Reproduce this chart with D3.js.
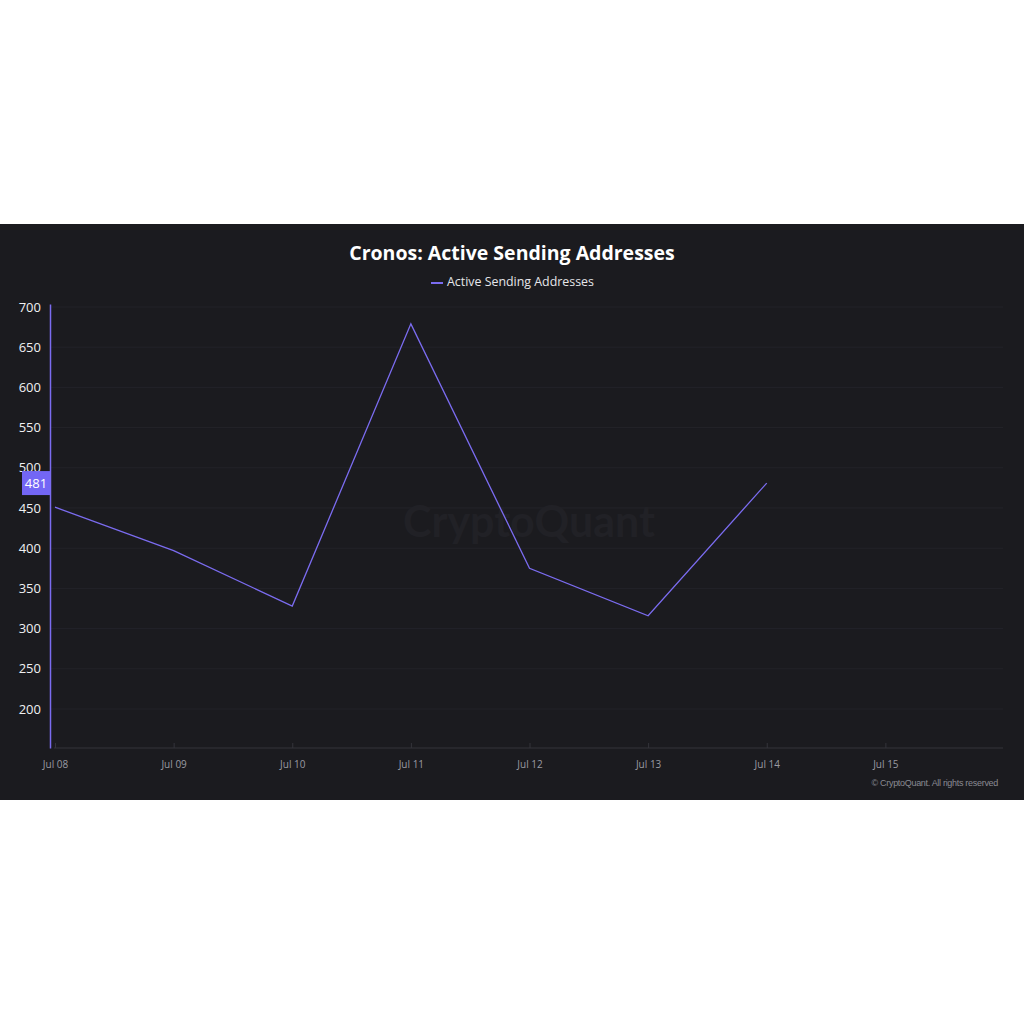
<!DOCTYPE html>
<html>
<head>
<meta charset="utf-8">
<script src="https://cdn.jsdelivr.net/npm/d3@7"></script>
<style>
  html, body { margin: 0; padding: 0; background: #ffffff; }
  svg { display: block; }
</style>
</head>
<body>
<div id="chart"></div>
<script>
// data
const dates = ["2023-07-08", "2023-07-09", "2023-07-10", "2023-07-11", "2023-07-12", "2023-07-13", "2023-07-14"];
const values = [451, 397, 328, 679, 375, 316, 481];
const yTicks = [200, 250, 300, 350, 400, 450, 500, 550, 600, 650, 700];
const xTickDates = ["2023-07-08", "2023-07-09", "2023-07-10", "2023-07-11", "2023-07-12", "2023-07-13", "2023-07-14", "2023-07-15"];
const lastLabel = "481";

const width = 1024, height = 1024;
const parse = d3.utcParse("%Y-%m-%d");
const lineColor = "#7b6cf0";

const svg = d3.select("#chart").append("svg")
  .attr("width", width)
  .attr("height", height);

// dark panel
svg.append("rect")
  .attr("x", 0).attr("y", 224)
  .attr("width", width).attr("height", 576)
  .attr("fill", "#1b1b1f");

const x = d3.scaleUtc()
  .domain([parse("2023-07-08"), parse("2023-07-16")])
  .range([55, 1004]);

const y = d3.scaleLinear()
  .domain([151.5, 703.7])
  .range([748, 304]);

// gridlines
svg.append("g")
  .selectAll("line")
  .data(yTicks)
  .join("line")
  .attr("x1", 50).attr("x2", 1003)
  .attr("y1", d => y(d)).attr("y2", d => y(d))
  .attr("stroke", "#232329")
  .attr("stroke-width", 1);

// watermark
svg.append("text")
  .attr("x", 529).attr("y", 537)
  .attr("text-anchor", "middle")
  .attr("font-family", "Lato, 'Open Sans', sans-serif")
  .attr("font-size", 43)
  .attr("font-weight", "bold")
  .attr("fill", "#212126")
  .text("CryptoQuant");

// title
svg.append("text")
  .attr("x", 512).attr("y", 260)
  .attr("text-anchor", "middle")
  .attr("font-family", "'Open Sans', 'Noto Sans', sans-serif")
  .attr("font-weight", "bold")
  .attr("font-size", 19.5)
  .attr("fill", "#ffffff")
  .text("Cronos: Active Sending Addresses");

// legend
svg.append("line")
  .attr("x1", 431).attr("x2", 443)
  .attr("y1", 283).attr("y2", 283)
  .attr("stroke", lineColor).attr("stroke-width", 2);
svg.append("text")
  .attr("x", 447).attr("y", 286)
  .attr("font-family", "'Open Sans', 'Noto Sans', sans-serif")
  .attr("font-size", 12.4)
  .attr("fill", "#e6e6ea")
  .text("Active Sending Addresses");

// x axis
const xAxis = d3.axisBottom(x)
  .tickValues(xTickDates.map(parse))
  .tickFormat(d3.utcFormat("%b %d"))
  .tickSize(5)
  .tickSizeOuter(0);
const gx = svg.append("g")
  .attr("transform", "translate(0,748)")
  .call(xAxis);
gx.select(".domain").attr("stroke", "#34343b").attr("d", "M54,0H1003");
gx.selectAll(".tick line").attr("stroke", "#34343b").attr("y1", 0).attr("y2", -5);
gx.selectAll(".tick text")
  .attr("y", 13)
  .attr("fill", "#9a9aa2")
  .attr("font-family", "'Open Sans', 'Noto Sans', sans-serif")
  .attr("font-size", 10);

// y axis
const yAxis = d3.axisLeft(y)
  .tickValues(yTicks)
  .tickSize(0)
  .tickPadding(9);
const gy = svg.append("g")
  .attr("transform", "translate(50,0)")
  .call(yAxis);
gy.select(".domain").attr("stroke", lineColor).attr("stroke-width", 1.5);
gy.selectAll(".tick text")
  .attr("fill", "#f0f0f2")
  .attr("font-family", "'Open Sans', 'Noto Sans', sans-serif")
  .attr("font-size", 13);

// line
const data = dates.map((d, i) => ({ date: parse(d), value: values[i] }));
svg.append("path")
  .datum(data)
  .attr("fill", "none")
  .attr("stroke", lineColor)
  .attr("stroke-width", 1.3)
  .attr("d", d3.line().x(d => x(d.date)).y(d => y(d.value)));

// last value label
const last = data[data.length - 1];
svg.append("rect")
  .attr("x", 22).attr("y", y(last.value) - 12)
  .attr("width", 28).attr("height", 24)
  .attr("fill", "#7366f5");
svg.append("text")
  .attr("x", 36).attr("y", y(last.value) + 5)
  .attr("text-anchor", "middle")
  .attr("font-family", "'Open Sans', 'Noto Sans', sans-serif")
  .attr("font-size", 13)
  .attr("fill", "#ffffff")
  .text(lastLabel);

// copyright
svg.append("text")
  .attr("x", 998).attr("y", 786)
  .attr("text-anchor", "end")
  .attr("font-family", "'Liberation Sans', Arial, sans-serif")
  .attr("font-size", 9)
  .attr("letter-spacing", -0.3)
  .attr("fill", "#8a8a92")
  .text("© CryptoQuant. All rights reserved");
</script>
</body>
</html>
